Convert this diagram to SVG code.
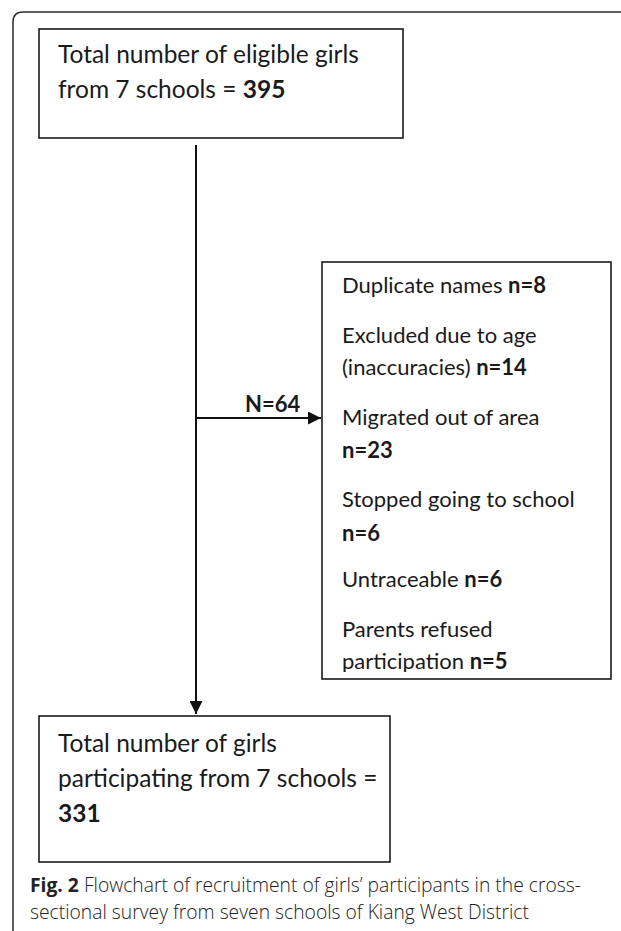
<svg xmlns="http://www.w3.org/2000/svg" width="621" height="931" viewBox="0 0 621 931">
<style>
.box{fill:#fff;stroke:#1a1a1a;stroke-width:1.6}
.frame{fill:none;stroke:#2a2a2a;stroke-width:1.5}
.t{font-family:Lato,"Open Sans","Liberation Sans",sans-serif;fill:#1a1a1a}
.L{font-size:24.5px}
.S{font-size:22px}
.b{font-weight:bold}
.cap{font-family:"Open Sans","Liberation Sans",sans-serif;font-size:19.3px;fill:#222;font-weight:300}
.conn{stroke:#111;stroke-width:2;fill:none}
</style>
<defs>
<marker id="ah" viewBox="0 0 13 13" refX="13" refY="6.5" markerWidth="13" markerHeight="13" markerUnits="userSpaceOnUse" orient="auto">
<path d="M0,0 L13,6.5 L0,13 Z" fill="#111"/>
</marker>
<clipPath id="clipEx"><rect x="322" y="262" width="289" height="410"/></clipPath>
</defs>
<path class="frame" d="M13,940 V22 Q13,12 23,12 H621"/>
<g id="connectors">
<line class="conn" x1="196" y1="145" x2="196" y2="714" marker-end="url(#ah)"/>
<line class="conn" x1="196" y1="418" x2="321" y2="418" marker-end="url(#ah)"/>
<text class="t S b" x="245" y="412">N=64</text>
</g>
<g id="top">
<rect class="box" x="39" y="29" width="364" height="109"/>
<text class="t L" x="58" y="63">Total number of eligible girls</text>
<text class="t L" x="58" y="98">from 7 schools = <tspan class="b">395</tspan></text>
</g>
<g id="excluded">
<rect class="box" x="322" y="262" width="289" height="417"/>
<g clip-path="url(#clipEx)">
<text class="t S" x="342" y="293">Duplicate names <tspan class="b">n=8</tspan></text>
<text class="t S" x="342" y="343">Excluded due to age</text>
<text class="t S" x="342" y="375">(inaccuracies) <tspan class="b">n=14</tspan></text>
<text class="t S" x="342" y="425">Migrated out of area</text>
<text class="t S b" x="342" y="458">n=23</text>
<text class="t S" x="342" y="507">Stopped going to school</text>
<text class="t S b" x="342" y="541">n=6</text>
<text class="t S" x="342" y="587">Untraceable <tspan class="b">n=6</tspan></text>
<text class="t S" x="342" y="637">Parents refused</text>
<text class="t S" x="342" y="669">participation <tspan class="b">n=5</tspan></text>
</g>
</g>
<g id="bottom">
<rect class="box" x="39" y="716" width="351" height="146"/>
<text class="t L" x="58" y="752">Total number of girls</text>
<text class="t L" x="58" y="787">participating from 7 schools =</text>
<text class="t L b" x="58" y="822">331</text>
</g>
<text class="cap" x="30" y="892"><tspan font-weight="bold">Fig. 2</tspan> Flowchart of recruitment of girls’ participants in the cross-</text>
<text class="cap" x="30" y="919">sectional survey from seven schools of Kiang West District</text>
</svg>
